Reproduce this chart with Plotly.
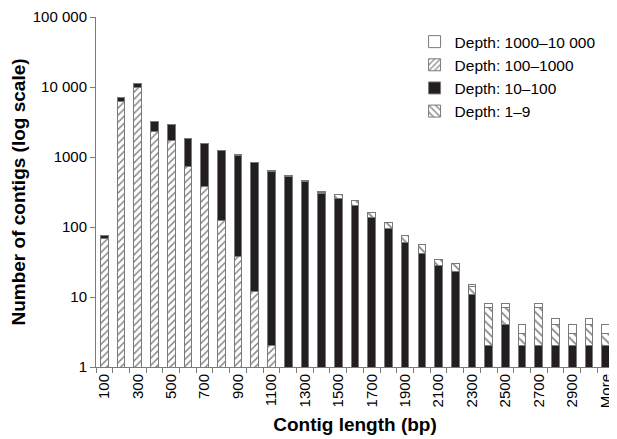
import plotly.graph_objects as go

categories = ['100', '200', '300', '400', '500', '600', '700', '800', '900', '1000',
              '1100', '1200', '1300', '1400', '1500', '1600', '1700', '1800', '1900', '2000',
              '2100', '2200', '2300', '2400', '2500', '2600', '2700', '2800', '2900', '3000', 'More']

depth_100_1000 = [69, 6200, 9900, 2330, 1710, 733, 378, 122, 38, 12,
                  2, 0, 0, 0, 0, 0, 0, 0, 0, 0,
                  0, 0, 0, 0, 0, 0, 0, 0, 0, 0, 0]
depth_10_100 = [6, 820, 1250, 850, 1190, 1077, 1188, 1108, 1017, 836,
                625, 520, 445, 305, 255, 200, 138, 94, 61, 42,
                28, 23, 11, 2, 4, 2, 2, 2, 2, 2, 2]
depth_1_9 = [0, 0, 0, 0, 0, 0, 0, 0, 25, 0,
             16, 12, 10, 10, 40, 36, 25, 23, 15, 15,
             6, 7, 3, 5, 3, 1, 5, 2, 1, 2, 1]
depth_1000_10000 = [0, 0, 0, 0, 0, 0, 0, 0, 0, 0,
                    0, 8, 7, 6, 0, 0, 0, 0, 0, 0,
                    0, 0, 1, 1, 1, 1, 1, 1, 1, 1, 1]

y_tickvals = [1, 10, 100, 1000, 10000, 100000]
y_ticktext = ['1', '10', '100', '1000', '10 000', '100 000']

x_idx = list(range(len(categories)))
label_idx = [i for i in x_idx if i % 2 == 0]
label_text = [categories[i] for i in label_idx]

FONT = "Liberation Sans, Arial, Helvetica, sans-serif"
outline = dict(color="#7a7a7a", width=1)
BW = 0.46

fig = go.Figure()
fig.add_trace(go.Bar(
    x=x_idx, y=depth_100_1000, name="Depth: 100–1000", width=BW,
    marker=dict(color="white", line=outline,
                pattern=dict(shape="/", fgcolor="#111", bgcolor="white", size=5, solidity=0.3)),
    legendgroup="b", legendrank=2))
fig.add_trace(go.Bar(
    x=x_idx, y=depth_10_100, name="Depth: 10–100", width=BW,
    marker=dict(color="#231f20", line=outline),
    legendgroup="c", legendrank=3))
fig.add_trace(go.Bar(
    x=x_idx, y=depth_1_9, name="Depth: 1–9", width=BW,
    marker=dict(color="white", line=outline,
                pattern=dict(shape="\\", fgcolor="#111", bgcolor="white", size=6, solidity=0.3)),
    legendgroup="d", legendrank=4))
fig.add_trace(go.Bar(
    x=x_idx, y=depth_1000_10000, name="Depth: 1000–10 000", width=BW,
    marker=dict(color="white", line=outline),
    legendgroup="a", legendrank=1))

# the page body adds an 8px margin, so the figure is sized to fit inside the window
fig.update_layout(
    barmode="stack",
    width=609, height=431,
    margin=dict(l=88, r=3, t=9, b=72),
    paper_bgcolor="white", plot_bgcolor="white",
    font=dict(family=FONT, size=15, color="black"),
    showlegend=True,
    legend=dict(x=0.615, y=0.977, xanchor="left", yanchor="top",
                bgcolor="rgba(0,0,0,0)", font=dict(size=15.5, family=FONT),
                tracegroupgap=0, itemwidth=30),
    xaxis=dict(
        range=[-0.5, len(categories) - 0.5], automargin=False,
        tickmode="array", tickvals=label_idx, ticktext=label_text,
        tickangle=-90, ticks="", showgrid=False, zeroline=False,
        showline=True, linecolor="#7a7a7a", linewidth=1,
        tickfont=dict(size=15, family=FONT),
        minor=dict(tickmode="array", tickvals=[i - 0.5 for i in range(len(categories) + 1)],
                   ticks="outside", ticklen=5, tickcolor="#7a7a7a", showgrid=False),
        title=dict(text="<b>Contig length (bp)</b>", font=dict(size=19, family=FONT), standoff=10),
    ),
    yaxis=dict(
        type="log", range=[0, 5], automargin=False,
        tickmode="array", tickvals=y_tickvals, ticktext=y_ticktext,
        ticks="outside", ticklen=5, tickcolor="#7a7a7a",
        showgrid=False, zeroline=False,
        showline=True, linecolor="#7a7a7a", linewidth=1,
        tickfont=dict(size=15, family=FONT),
        title=dict(text="<b>Number of contigs (log scale)</b>", font=dict(size=19, family=FONT), standoff=2),
    ),
)

fig.write_html("out.html")
